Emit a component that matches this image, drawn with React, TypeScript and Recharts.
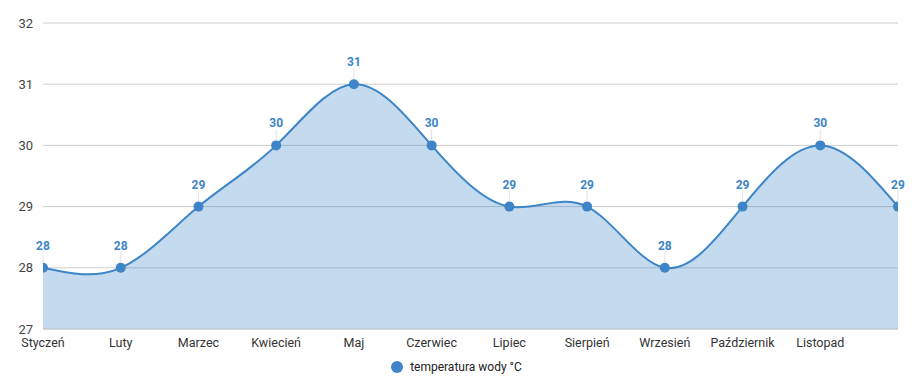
import React from 'react';
import { ComposedChart, Area, XAxis, YAxis, CartesianGrid, Legend, LabelList } from 'recharts';

const months = ['Styczeń', 'Luty', 'Marzec', 'Kwiecień', 'Maj', 'Czerwiec', 'Lipiec', 'Sierpień', 'Wrzesień', 'Październik', 'Listopad', 'Grudzień'];
const waterTemp = [28, 28, 29, 30, 31, 30, 29, 29, 28, 29, 30, 29];
const yTicks = [27, 28, 29, 30, 31, 32];

const BLUE = '#3d85c6';
const FONT = 'Roboto, "Noto Sans", sans-serif';

const data = months.map((m, i) => ({ month: m, temp: waterTemp[i] }));

// value label with the thin grey stem above each point
const PointLabel = (props: any) => {
    const { x, y, value } = props;
    return (
        <g>
            <line x1={x} x2={x} y1={y - 5} y2={y - 16} stroke="#e3e3e3" strokeWidth={1} />
            <text x={x} y={y - 18} textAnchor="middle" fill={BLUE} fontSize={12} fontWeight={700} fontFamily={FONT}>
                {value}
            </text>
        </g>
    );
};

const LegendContent = () => (
    <div style={{ display: 'flex', justifyContent: 'center', alignItems: 'center', fontFamily: FONT, fontSize: 12, color: '#222', marginTop: -3, paddingLeft: 14 }}>
        <svg width={14} height={14} style={{ marginRight: 6 }}>
            <circle cx={7} cy={7} r={6} fill={BLUE} />
        </svg>
        <span>temperatura wody °C</span>
    </div>
);

export default function App() {
    return (
        <div style={{ position: 'absolute', left: 0, top: 0, width: 917, height: 390, background: '#fff' }}>
            <ComposedChart width={917} height={390} data={data} margin={{ top: 23, right: 19, left: 0, bottom: 0 }}>
                <CartesianGrid vertical={false} stroke="#cccccc" />
                <XAxis
                    dataKey="month"
                    interval={0}
                    axisLine={{ stroke: '#cccccc' }}
                    tickLine={false}
                    height={34}
                    allowDataOverflow
                    tick={{ fontSize: 12.5, fill: '#333', fontFamily: FONT }}
                    tickFormatter={(v: string, i: number) => (i === months.length - 1 ? '' : v)}
                    dy={1}
                />
                <YAxis
                    domain={[27, 32]}
                    ticks={yTicks}
                    width={43}
                    axisLine={false}
                    tickLine={false}
                    allowDataOverflow
                    tick={{ fontSize: 13, fill: '#444', fontFamily: FONT }}
                    dx={-2}
                />
                <Legend verticalAlign="bottom" height={27} content={<LegendContent />} />
                <Area
                    type="natural"
                    dataKey="temp"
                    name="temperatura wody °C"
                    stroke={BLUE}
                    strokeWidth={2}
                    fill={BLUE}
                    fillOpacity={0.3}
                    baseValue={27}
                    dot={{ r: 5, fill: BLUE, fillOpacity: 1, stroke: BLUE, strokeWidth: 0, clipDot: true }}
                    activeDot={false}
                    isAnimationActive={false}
                >
                    <LabelList dataKey="temp" content={<PointLabel />} />
                </Area>
            </ComposedChart>
        </div>
    );
}
